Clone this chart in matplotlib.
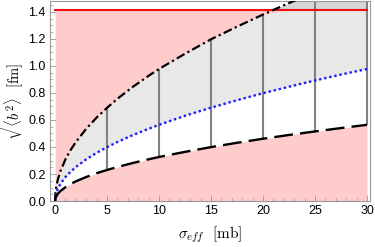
import matplotlib
matplotlib.use("Agg")
import matplotlib.pyplot as plt
from matplotlib.ticker import MultipleLocator

plt.rcParams['mathtext.fontset'] = 'cm'
plt.rcParams['font.family'] = ['Liberation Sans', 'DejaVu Sans']

sigma = [0, 0.02, 0.05, 0.1, 0.25, 0.5, 1, 1.5, 2, 3, 4, 5, 6, 7.5, 9, 10, 12.5, 15, 17.5, 20, 22.5, 25, 27.5, 30]
upper = [0, 0.044, 0.069, 0.098, 0.155, 0.218, 0.309, 0.378, 0.437, 0.535, 0.618, 0.69, 0.757, 0.846, 0.927,
         0.977, 1.09, 1.197, 1.29, 1.38, 1.465, 1.545, 1.62, 1.69]
middle = [0, 0.025, 0.04, 0.056, 0.089, 0.126, 0.178, 0.218, 0.252, 0.309, 0.357, 0.399, 0.437, 0.489, 0.535,
          0.564, 0.631, 0.691, 0.746, 0.798, 0.846, 0.892, 0.936, 0.977]
lower = [0, 0.015, 0.023, 0.033, 0.052, 0.073, 0.103, 0.126, 0.146, 0.178, 0.206, 0.230, 0.252, 0.282, 0.309,
         0.326, 0.364, 0.399, 0.431, 0.461, 0.489, 0.515, 0.540, 0.564]
limit = 1.414
bars_x = [5, 10, 15, 20, 25, 30]
bars_lo = [0.230, 0.326, 0.399, 0.461, 0.515, 0.564]
bars_hi = [0.69, 0.977, 1.197, 1.38, 1.545, 1.69]

fig = plt.figure(figsize=(3.75, 2.47), dpi=100)
ax = fig.add_axes([0.133, 0.186, 0.854, 0.81])

lim = [limit] * len(sigma)
capped = [min(u, limit) for u in upper]
pink = '#ffcccc'
ax.fill_between(sigma, 0, lower, color=pink, lw=0)
ax.fill_between(sigma, middle, capped, color='#e8e8e8', lw=0)
ax.fill_between(sigma, lim, upper, where=[u >= limit for u in upper], interpolate=True, color='#d6d6d6', lw=0)
ax.fill_between(sigma, capped, lim, color=pink, lw=0)

ax.vlines(bars_x, bars_lo, bars_hi, color='#808080', lw=1.5, zorder=2)
ax.plot([0, 30], [limit, limit], color='#ee1111', lw=1.5, zorder=3)

ax.plot(sigma, upper, color='black', lw=1.6, dashes=(4, 1.5, 1, 1.5), zorder=4)
ax.plot(sigma, middle, color='#1a1aff', lw=1.7, dashes=(1, 1.2), zorder=4)
ax.plot(sigma, lower, color='black', lw=1.7, dashes=(8, 3), zorder=4)

ax.set_xlim(-0.5, 30.3)
ax.set_ylim(0, 1.48)
ax.set_xticks([0, 5, 10, 15, 20, 25, 30])
ax.set_yticks([0.0, 0.2, 0.4, 0.6, 0.8, 1.0, 1.2, 1.4])
ax.set_yticklabels(['0.0', '0.2', '0.4', '0.6', '0.8', '1.0', '1.2', '1.4'])
ax.xaxis.set_minor_locator(MultipleLocator(1))
ax.yaxis.set_minor_locator(MultipleLocator(0.05))
ax.tick_params(which='both', direction='in', top=False, right=False, labelsize=9, color='#999999', pad=3)
ax.tick_params(which='major', length=4, width=0.6)
ax.tick_params(which='minor', length=2, width=0.5)
for s in ax.spines.values():
    s.set_color('#999999')
    s.set_linewidth(0.8)

ax.set_xlabel(r'$\sigma_{eff}\ \ [\mathrm{mb}]$', fontsize=11, labelpad=5)
ax.set_ylabel(r'$\sqrt{\langle b^2\rangle}\ \ [\mathrm{fm}]$', fontsize=10.5)
ax.yaxis.set_label_coords(-0.075, 0.5)

fig.savefig('out.png', dpi=100)
